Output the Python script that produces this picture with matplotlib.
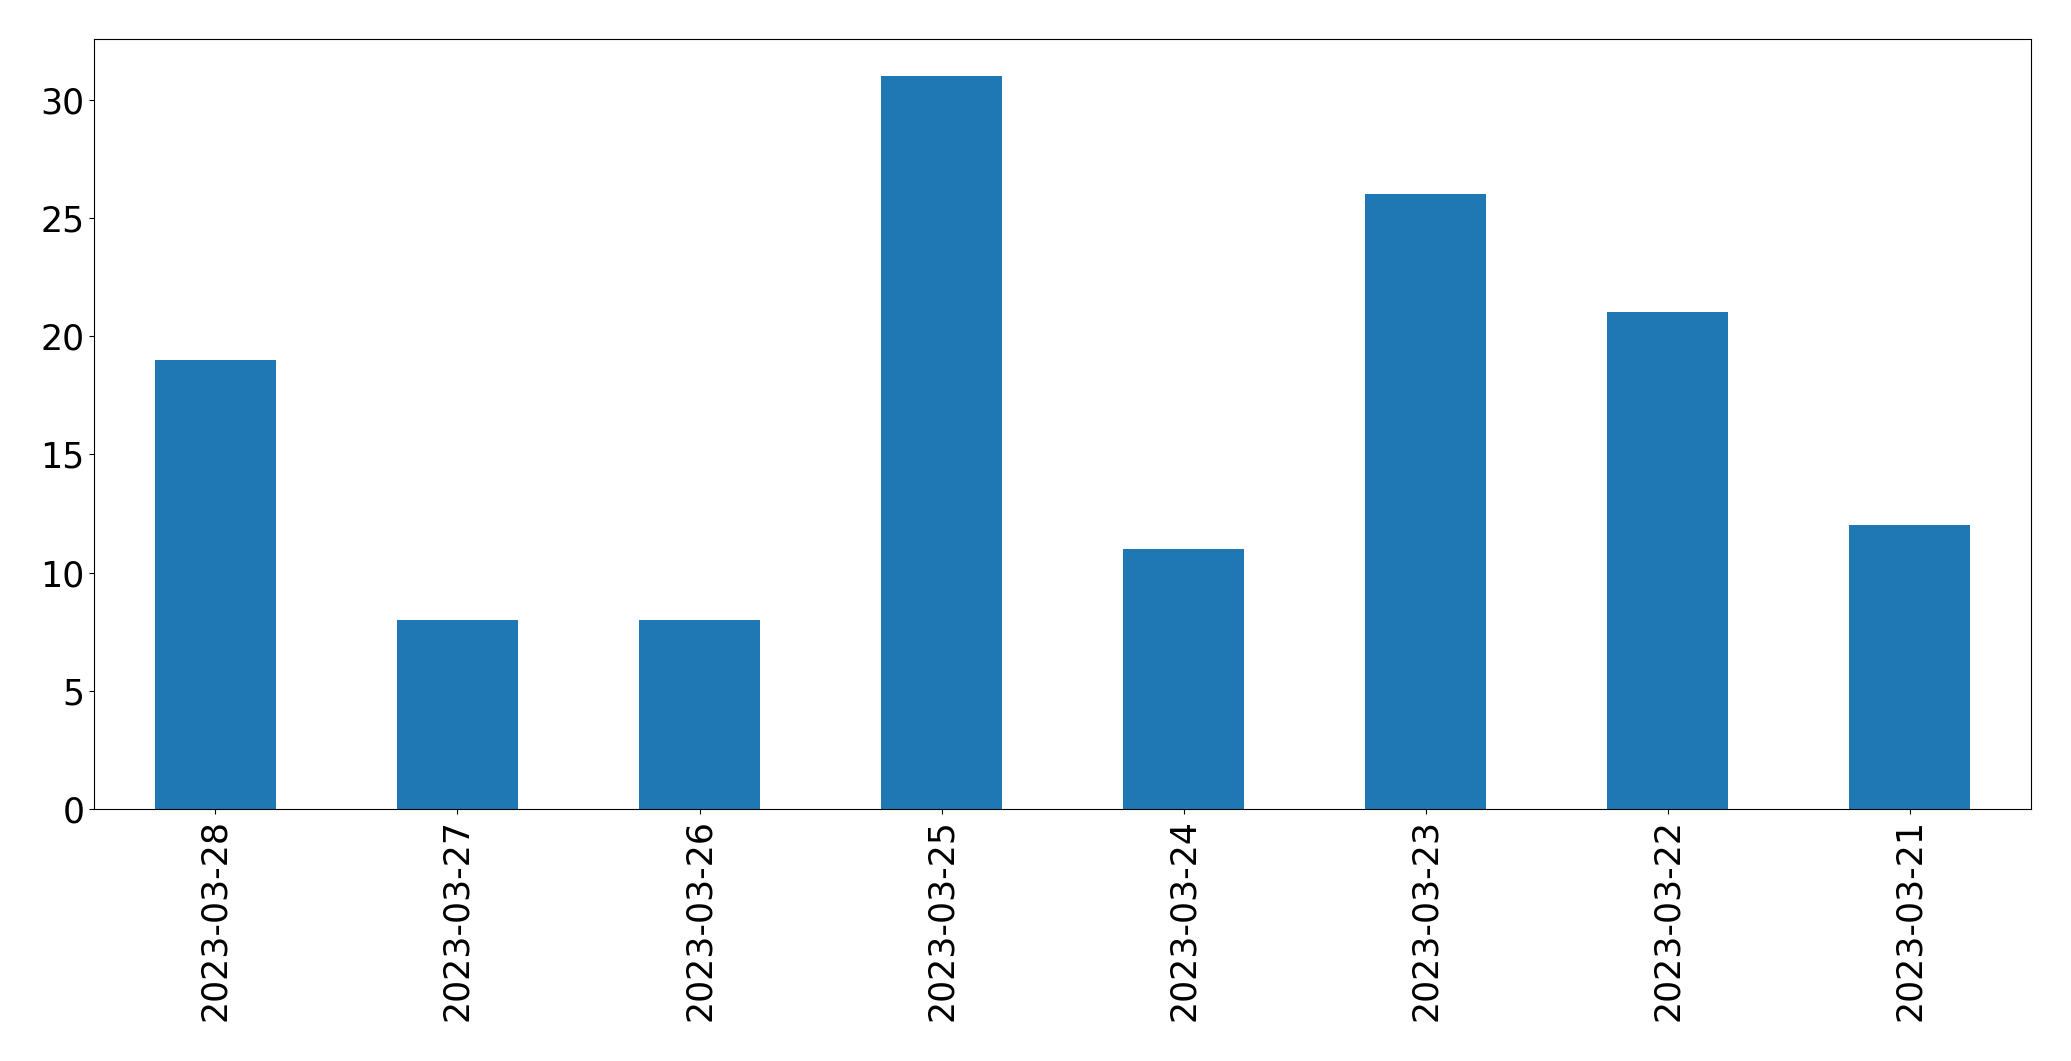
import matplotlib
matplotlib.use("Agg")
import matplotlib.pyplot as plt

dates = ["2023-03-28", "2023-03-27", "2023-03-26", "2023-03-25",
         "2023-03-24", "2023-03-23", "2023-03-22", "2023-03-21"]
counts = [19, 8, 8, 31, 11, 26, 21, 12]

fig = plt.figure(figsize=(20.71, 10.61), dpi=100)
ax = fig.add_axes([94.3 / 2071, 1 - 809 / 1061, (2031 - 94.3) / 2071, (809 - 39.3) / 1061])
x = list(range(len(dates)))
ax.bar(x, counts, width=0.5, color="#1f77b4")
ax.set_xlim(-0.5, len(dates) - 0.5)
ax.set_ylim(0, max(counts) * 1.05)
ax.set_xticks(x)
ax.set_xticklabels(dates, rotation=90)
ax.tick_params(labelsize=25)
fig.savefig("out.png", dpi=100)
